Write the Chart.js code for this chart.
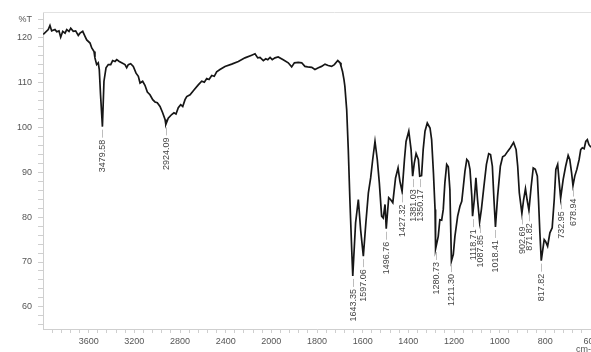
<!DOCTYPE html>
<html>
<head>
<meta charset="utf-8">
<script src="https://cdn.jsdelivr.net/npm/chart.js@4.4.1/dist/chart.umd.min.js"></script>
<style>
  html, body { margin: 0; padding: 0; background: #fff; overflow: hidden; width: 591px; height: 352px; }
  #wrap { position: relative; width: 625px; height: 352px; }
</style>
</head>
<body>
<div id="wrap"><canvas id="ir" width="625" height="352"></canvas></div>
<script>
// IR spectrum: wavenumber (cm-1) and transmittance (%T)
const wavenumbers = [
  3998, 3954, 3939, 3924, 3895, 3880, 3860, 3845, 3827, 3807, 3792, 3772, 3757, 3735, 3714, 3691,
  3676, 3652, 3632, 3617, 3588, 3573, 3553, 3545, 3530, 3516, 3507, 3496, 3479.58, 3466, 3448, 3428,
  3407, 3390, 3369, 3354, 3332, 3311, 3282, 3267, 3253, 3232, 3209, 3185, 3165, 3150, 3127, 3107,
  3086, 3063, 3039, 3019, 2999, 2975, 2952, 2931, 2924.09, 2903, 2873, 2853, 2835, 2815, 2794, 2776,
  2756, 2741, 2712, 2676, 2640, 2610, 2587, 2566, 2546, 2522, 2500, 2479, 2450, 2406, 2347, 2289,
  2231, 2172, 2143, 2119, 2099, 2070, 2049, 2031, 2011, 1996, 1984, 1970, 1948, 1926, 1911, 1899,
  1882, 1867, 1853, 1841, 1823, 1809, 1794, 1780, 1765, 1751, 1736, 1724, 1709, 1699, 1695, 1688,
  1682, 1678, 1670, 1663, 1656, 1648, 1643.35, 1631, 1619, 1609, 1597.06, 1586, 1575, 1565, 1556, 1546,
  1536, 1527, 1517, 1510, 1502, 1496.76, 1486, 1478, 1468, 1456, 1445, 1437, 1427.32, 1417, 1410, 1398,
  1388, 1381.03, 1374, 1366, 1356, 1350.17, 1342, 1335, 1327, 1317, 1305, 1298, 1290, 1283, 1280.73, 1269,
  1262, 1254, 1247, 1240, 1232, 1225, 1218, 1211.30, 1203, 1196, 1184, 1174, 1166, 1159, 1152, 1144,
  1137, 1130, 1122, 1118.71, 1111, 1104, 1097, 1087.85, 1080, 1069, 1058, 1048, 1040, 1032, 1025, 1018.41,
  1009, 997, 987, 977, 965, 953, 939, 928, 921, 914, 902.69, 895, 887, 880, 871.82, 862,
  853, 844, 835, 830, 824, 817.82, 805, 799, 790, 780, 770, 761, 754, 746, 739, 732.95,
  722, 711, 700, 693, 685, 678.94, 671, 662, 652, 645, 638, 630, 623, 616, 609, 600
];
const transmittance = [
  120.6, 121.7, 122.6, 121.4, 121.7, 121.2, 121.4, 120.0, 121.3, 120.9, 121.7, 121.3, 122.0, 121.3, 121.4, 120.4,
  120.9, 121.3, 120.2, 119.4, 118.7, 117.6, 116.8, 115.4, 113.9, 114.3, 112.8, 107.2, 100.1, 110.2, 113.2, 113.9,
  113.9, 114.8, 114.6, 115.0, 114.6, 114.3, 113.9, 113.2, 113.9, 114.1, 113.5, 112.0, 111.3, 109.8, 110.2, 109.3,
  107.8, 107.2, 106.1, 105.6, 105.4, 104.6, 103.2, 101.7, 100.6, 102.0, 102.8, 103.2, 102.9, 104.3, 105.0, 104.6,
  106.1, 106.8, 107.2, 108.3, 109.4, 110.2, 110.0, 110.8, 110.6, 111.5, 111.3, 112.3, 112.8, 113.5, 114.0, 114.6,
  115.4, 116.0, 116.3, 115.4, 115.5, 114.8, 115.2, 115.0, 115.5, 115.0, 115.4, 115.6, 115.0, 114.3, 113.4, 114.3,
  114.4, 114.3, 113.5, 113.4, 113.3, 112.8, 113.2, 113.5, 114.0, 113.7, 113.5, 113.9, 114.8, 114.3, 113.6, 112.3,
  110.6, 109.1, 103.9, 95.0, 83.9, 72.8, 66.9, 78.7, 83.9, 77.2, 71.3, 78.7, 85.4, 88.7, 92.8, 96.8,
  92.8, 87.6, 80.2, 79.8, 82.8, 77.4, 84.3, 83.9, 83.2, 88.7, 90.9, 88.0, 85.7, 92.8, 96.8, 99.1,
  95.0, 89.1, 92.0, 94.1, 92.8, 89.1, 89.2, 95.0, 99.1, 100.9, 99.8, 97.2, 89.8, 81.7, 72.9, 75.7,
  79.4, 79.3, 81.7, 87.6, 91.7, 91.2, 86.1, 70.2, 71.7, 75.7, 80.2, 82.4, 83.5, 86.8, 90.2, 92.8,
  92.4, 90.6, 84.6, 80.2, 83.9, 88.7, 83.9, 78.9, 81.7, 86.8, 91.7, 94.1, 93.9, 91.3, 83.9, 77.8,
  84.6, 91.3, 93.4, 93.7, 94.6, 95.4, 96.6, 95.0, 91.3, 85.4, 80.8, 83.9, 86.3, 83.9, 81.5, 86.8,
  90.9, 90.6, 89.1, 83.9, 76.6, 70.3, 75.0, 74.6, 73.5, 76.5, 77.6, 83.9, 90.6, 91.7, 87.6, 84.2,
  88.3, 91.3, 93.7, 92.8, 89.8, 87.0, 89.1, 90.6, 92.8, 95.0, 95.4, 95.2, 96.8, 97.2, 96.1, 95.5
];
// Labelled absorption bands
const peakWavenumbers = [
  3479.58, 2924.09, 1643.35, 1597.06, 1496.76, 1427.32, 1381.03, 1350.17, 1280.73,
  1211.30, 1118.71, 1087.85, 1018.41, 902.69, 871.82, 817.82, 732.95, 678.94
];
const xTickLabels = [3600, 3200, 2800, 2400, 2000, 1800, 1600, 1400, 1200, 1000, 800, 600];
const yTickLabels = [60, 70, 80, 90, 100, 110, 120];
const yAxisTitle = '%T';
const xAxisTitle = 'cm-1';

// The wavenumber axis changes scale at 2000 cm-1 (400 per division above, 200 below).
const BREAK = 2000;
function toAxis(w) { return w >= BREAK ? (4000 - w) / 400 : 5 + (BREAK - w) / 200; }
function fromAxis(u) { return u <= 5 ? 4000 - 400 * u : BREAK - 200 * (u - 5); }

const FONT = "'Liberation Sans Narrow', 'Liberation Sans', Arial, sans-serif";
const AXIS_GRAY = '#cfcfcf';
const TEXT_GRAY = '#555';

const peakLabelsPlugin = {
  id: 'peakLabels',
  afterDatasetsDraw(chart) {
    const { ctx, scales: { x, y }, chartArea } = chart;
    ctx.save();
    // frame line along the top of the plot
    ctx.strokeStyle = '#e2e2e2';
    ctx.lineWidth = 1;
    ctx.beginPath();
    ctx.moveTo(chartArea.left, chartArea.top + 0.5);
    ctx.lineTo(chartArea.right + 40, chartArea.top + 0.5);
    ctx.stroke();

    ctx.font = '9px ' + FONT;
    peakWavenumbers.forEach((w) => {
      const idx = wavenumbers.indexOf(w);
      const px = Math.round(x.getPixelForValue(toAxis(w))) + 0.5;
      const py = y.getPixelForValue(transmittance[idx]);
      ctx.strokeStyle = '#bdbdbd';
      ctx.lineWidth = 1;
      ctx.beginPath();
      ctx.moveTo(px, py + 3);
      ctx.lineTo(px, py + 11);
      ctx.stroke();
      ctx.save();
      ctx.translate(px, py + 13);
      ctx.rotate(-Math.PI / 2);
      ctx.fillStyle = '#444';
      ctx.textAlign = 'right';
      ctx.textBaseline = 'middle';
      ctx.fillText(w.toFixed(2), 0, 0);
      ctx.restore();
    });

    // unit label under the right end of the wavenumber axis
    ctx.font = '9px ' + FONT;
    ctx.fillStyle = TEXT_GRAY;
    ctx.textAlign = 'left';
    ctx.textBaseline = 'middle';
    ctx.fillText(xAxisTitle, 576, 350);
    ctx.restore();
  }
};

new Chart(document.getElementById('ir'), {
  type: 'line',
  data: {
    datasets: [{
      data: wavenumbers.map((w, i) => ({ x: toAxis(w), y: transmittance[i] })),
      borderColor: '#161616',
      borderWidth: 1.7,
      pointRadius: 0,
      tension: 0,
      fill: false
    }]
  },
  options: {
    responsive: false,
    animation: false,
    devicePixelRatio: 1,
    layout: { padding: { top: 12, right: 34, left: 0, bottom: 0 } },
    plugins: { legend: { display: false }, tooltip: { enabled: false } },
    scales: {
      x: {
        type: 'linear',
        min: 0,
        max: 12,
        afterBuildTicks(scale) {
          const t = [];
          for (let k = 1; k <= 60; k++) t.push({ value: k * 0.2 });
          scale.ticks = t;
        },
        afterFit(scale) { scale.height = 23; },
        grid: { drawOnChartArea: false, color: AXIS_GRAY, tickLength: 4 },
        border: { color: AXIS_GRAY },
        ticks: {
          autoSkip: false,
          maxRotation: 0,
          padding: 3,
          color: TEXT_GRAY,
          font: { family: FONT, size: 9 },
          callback(v) {
            if (Math.abs(v - Math.round(v)) > 1e-6) return '';
            const w = Math.round(fromAxis(v));
            return xTickLabels.includes(w) ? String(w) : '';
          }
        }
      },
      y: {
        min: 55.1,
        max: 125.6,
        afterBuildTicks(scale) {
          const t = [];
          for (let v = 56; v <= 124; v += 2) t.push({ value: v });
          scale.ticks = t;
        },
        afterFit(scale) { scale.width = 43; },
        grid: { drawOnChartArea: false, color: AXIS_GRAY, tickLength: 5 },
        border: { color: AXIS_GRAY },
        ticks: {
          autoSkip: false,
          padding: 6,
          color: TEXT_GRAY,
          font: { family: FONT, size: 9 },
          callback(v) {
            if (v === 124) return yAxisTitle;
            return yTickLabels.includes(v) ? String(v) : '';
          }
        }
      }
    }
  },
  plugins: [peakLabelsPlugin]
});
</script>
</body>
</html>
